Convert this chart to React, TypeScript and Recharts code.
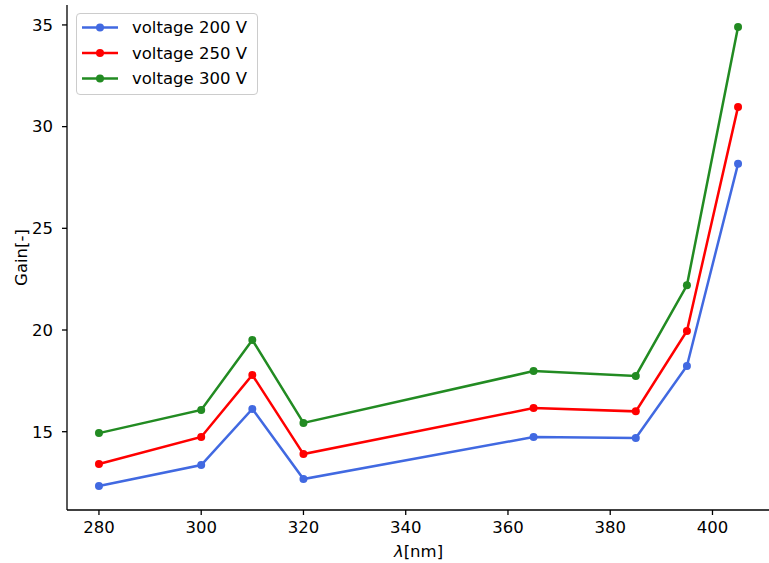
import React from 'react';
import { LineChart, Line, XAxis, YAxis } from 'recharts';

// Wavelengths (nm) and measured gain per supply voltage
const wavelengths = [280, 300, 310, 320, 365, 385, 395, 405];
const gain200 = [12.33, 13.36, 16.12, 12.67, 14.74, 14.69, 18.23, 28.17];
const gain250 = [13.41, 14.74, 17.79, 13.9, 16.16, 16.0, 19.95, 30.97];
const gain300 = [14.93, 16.07, 19.51, 15.43, 17.98, 17.74, 22.2, 34.9];

const xTicks = [280, 300, 320, 340, 360, 380, 400];
const yTicks = [15, 20, 25, 30, 35];

const seriesInfo = [
  { key: 'v200', name: 'voltage 200 V', color: '#4169E1' },
  { key: 'v250', name: 'voltage 250 V', color: '#FF0000' },
  { key: 'v300', name: 'voltage 300 V', color: '#228B22' },
];

const data = wavelengths.map((w, i) => ({
  wl: w,
  v200: gain200[i],
  v250: gain250[i],
  v300: gain300[i],
}));

const FONT = 'DejaVu Sans';
const FS = 16.5;

// Legend drawn as an overlay box in the upper-left corner of the axes
const LegendBox = () => (
  <div
    style={{
      position: 'absolute',
      left: 76,
      top: 13,
      width: 180,
      height: 80,
      border: '1px solid #cccccc',
      borderRadius: 4,
      background: 'rgba(255,255,255,0.8)',
    }}
  >
    <svg width={180} height={80} style={{ position: 'absolute', left: 0, top: 0 }}>
      {seriesInfo.map((s, i) => {
        const y = 13.5 + i * 25.5;
        return (
          <g key={s.key}>
            <line x1={5} x2={41} y1={y} y2={y} stroke={s.color} strokeWidth={2.5} />
            <circle cx={23} cy={y} r={4} fill={s.color} />
            <text x={55} y={y} dy="0.36em" fontFamily={FONT} fontSize={FS} fill="#000">
              {s.name}
            </text>
          </g>
        );
      })}
    </svg>
  </div>
);

const XLabel = (props: any) => {
  const vb = props.viewBox;
  const cx = vb.x + vb.width / 2;
  return (
    <text
      x={cx}
      y={vb.y + vb.height - 6}
      textAnchor="middle"
      fontFamily={FONT}
      fontSize={FS}
      fill="#000"
    >
      <tspan fontStyle="italic">λ</tspan>
      <tspan>[nm]</tspan>
    </text>
  );
};

const YLabel = (props: any) => {
  const vb = props.viewBox;
  const cy = vb.y + vb.height / 2;
  const x = 21;
  return (
    <text
      x={x}
      y={cy}
      transform={`rotate(-90, ${x}, ${cy})`}
      textAnchor="middle"
      dominantBaseline="central"
      fontFamily={FONT}
      fontSize={FS}
      fill="#000"
    >
      Gain[-]
    </text>
  );
};

export default function App() {
  const tickStyle = { fill: '#000', fontSize: FS, fontFamily: FONT };
  const axisLine = { stroke: '#000', strokeWidth: 1.3 };
  return (
    <div
      style={{
        position: 'absolute',
        left: 0,
        top: 0,
        width: 769,
        height: 563,
        overflow: 'hidden',
        background: '#fff',
      }}
    >
      <LineChart
        width={770}
        height={563}
        data={data}
        margin={{ top: 5, right: 0, bottom: 0, left: 0 }}
        style={{ fontFamily: FONT }}
      >
        <XAxis
          dataKey="wl"
          type="number"
          domain={[273.75, 411.25]}
          ticks={xTicks}
          height={53}
          tick={tickStyle}
          tickSize={5}
          tickMargin={6}
          axisLine={axisLine}
          tickLine={axisLine}
          allowDataOverflow
          label={<XLabel />}
        />
        <XAxis
          xAxisId="top"
          orientation="top"
          dataKey="wl"
          type="number"
          domain={[273.75, 411.25]}
          height={0}
          tick={false}
          tickLine={false}
          axisLine={axisLine}
          allowDataOverflow
        />
        <YAxis
          type="number"
          domain={[11.15, 35.98]}
          ticks={yTicks}
          width={67}
          tick={tickStyle}
          tickSize={5}
          tickMargin={9}
          axisLine={axisLine}
          tickLine={axisLine}
          allowDataOverflow
          label={<YLabel />}
        />
        {seriesInfo.map((s) => (
          <Line
            key={s.key}
            dataKey={s.key}
            name={s.name}
            stroke={s.color}
            strokeWidth={2.5}
            dot={{ r: 4, fill: s.color, stroke: 'none' }}
            activeDot={false}
            isAnimationActive={false}
          />
        ))}
      </LineChart>
      <LegendBox />
    </div>
  );
}
